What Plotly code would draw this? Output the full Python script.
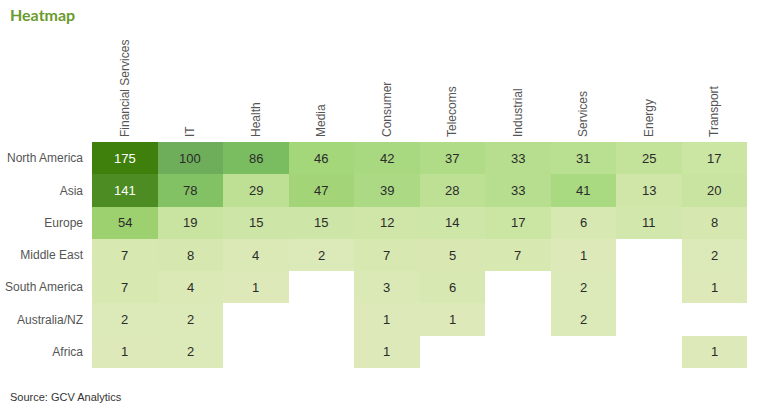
import plotly.graph_objects as go

sectors = ["Financial Services", "IT", "Health", "Media", "Consumer",
           "Telecoms", "Industrial", "Services", "Energy", "Transport"]
regions = ["North America", "Asia", "Europe", "Middle East",
           "South America", "Australia/NZ", "Africa"]

north_america = [175, 100, 86, 46, 42, 37, 33, 31, 25, 17]
asia = [141, 78, 29, 47, 39, 28, 33, 41, 13, 20]
europe = [54, 19, 15, 15, 12, 14, 17, 6, 11, 8]
middle_east = [7, 8, 4, 2, 7, 5, 7, 1, None, 2]
south_america = [7, 4, 1, None, 3, 6, None, 2, None, 1]
australia_nz = [2, 2, None, None, 1, 1, None, 2, None, None]
africa = [1, 2, None, None, 1, None, None, None, None, 1]

z = [north_america, asia, europe, middle_east, south_america, australia_nz, africa]

zmin, zmax = 1, 175
stops = [(1, "#dde9b9"), (7, "#d7e8b0"), (13, "#cfe6a8"), (25, "#c3e29a"),
         (41, "#a9d981"), (54, "#9dd06e"), (86, "#7abd61"), (100, "#6eae5a"),
         (141, "#4c8c22"), (175, "#3f800c")]
colorscale = [[(v - zmin) / (zmax - zmin), c] for v, c in stops]

L, R, T, B = 92, 21, 142, 44
W, H = 768, 412
pw, ph = W - L - R, H - T - B

fig = go.Figure(go.Heatmap(
    z=z, x=sectors, y=regions, zmin=zmin, zmax=zmax,
    colorscale=colorscale, showscale=False, hoverongaps=False,
))

for r, row in zip(regions, z):
    for s, v in zip(sectors, row):
        if v is None:
            continue
        fig.add_annotation(
            x=s, y=r, text=str(v), showarrow=False,
            font=dict(family="Liberation Sans", size=13,
                      color="#ffffff" if v > 120 else "#2b2b2b"),
        )

fig.add_annotation(text="<b>Heatmap</b>", xref="paper", yref="paper",
                   x=-(L - 8) / pw, y=1 + (T - 14) / ph, xanchor="left", yanchor="middle",
                   showarrow=False,
                   font=dict(family="Lato", size=16, color="#6a9b2e"))
fig.add_annotation(text="Source: GCV Analytics", xref="paper", yref="paper",
                   x=-(L - 8) / pw, y=-(397 - (H - B)) / ph, xanchor="left", yanchor="middle",
                   showarrow=False,
                   font=dict(family="Liberation Sans", size=11, color="#333333"))

fig.update_layout(
    width=W, height=H,
    margin=dict(l=L, r=R, t=T, b=B, autoexpand=False),
    paper_bgcolor="white", plot_bgcolor="white",
    font=dict(family="Liberation Sans", size=12, color="#555555"),
    xaxis=dict(side="top", tickangle=-90, showgrid=False, zeroline=False,
               ticks="", showline=False, automargin=False, ticklabelstandoff=4,
               tickfont=dict(size=12, color="#555555")),
    yaxis=dict(autorange="reversed", showgrid=False, zeroline=False,
               ticks="", showline=False, automargin=False, ticklabelstandoff=8,
               tickfont=dict(size=12, color="#555555")),
)

fig.write_html("out.html",
               config={"displayModeBar": False},
               post_script="document.body.style.margin='0';document.body.style.overflow='hidden';")
